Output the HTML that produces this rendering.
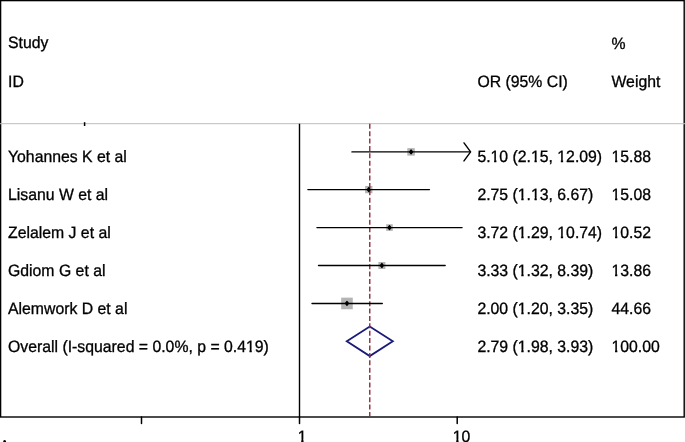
<!DOCTYPE html>
<html><head><meta charset="utf-8"><style>
html,body{margin:0;padding:0;background:#fff;}
svg{display:block;}
#wrap{will-change:transform;width:685px;height:442px;overflow:hidden;}
text{font-family:"Liberation Sans", sans-serif;font-size:15.8px;fill:#000;stroke:#000;stroke-width:0.3px;text-rendering:geometricPrecision;}
</style></head><body>
<div id="wrap"><svg width="685" height="442" viewBox="0 0 685 442">
<defs><clipPath id="k0" clipPathUnits="userSpaceOnUse"><path clip-rule="evenodd" d="M0,0H685V442H0ZM490.77,159.40H499.17V163.00H490.77ZM494.12,159.40H496.37V163.00H494.12ZM531.16,159.40H539.56V163.00H531.16ZM534.51,159.40H536.76V163.00H534.51ZM557.51,159.40H565.91V163.00H557.51ZM560.86,159.40H563.11V163.00H560.86Z"/></clipPath><clipPath id="k1" clipPathUnits="userSpaceOnUse"><path clip-rule="evenodd" d="M0,0H685V442H0ZM611.70,159.40H620.10V163.00H611.70ZM615.05,159.40H617.30V163.00H615.05Z"/></clipPath><clipPath id="k2" clipPathUnits="userSpaceOnUse"><path clip-rule="evenodd" d="M0,0H685V442H0ZM517.99,197.40H526.39V201.00H517.99ZM521.34,197.40H523.59V201.00H521.34ZM531.16,197.40H539.56V201.00H531.16ZM534.51,197.40H536.76V201.00H534.51Z"/></clipPath><clipPath id="k3" clipPathUnits="userSpaceOnUse"><path clip-rule="evenodd" d="M0,0H685V442H0ZM611.70,197.40H620.10V201.00H611.70ZM615.05,197.40H617.30V201.00H615.05Z"/></clipPath><clipPath id="k4" clipPathUnits="userSpaceOnUse"><path clip-rule="evenodd" d="M0,0H685V442H0ZM517.99,235.40H526.39V239.00H517.99ZM521.34,235.40H523.59V239.00H521.34ZM557.51,235.40H565.91V239.00H557.51ZM560.86,235.40H563.11V239.00H560.86Z"/></clipPath><clipPath id="k5" clipPathUnits="userSpaceOnUse"><path clip-rule="evenodd" d="M0,0H685V442H0ZM611.70,235.40H620.10V239.00H611.70ZM615.05,235.40H617.30V239.00H615.05Z"/></clipPath><clipPath id="k6" clipPathUnits="userSpaceOnUse"><path clip-rule="evenodd" d="M0,0H685V442H0ZM517.99,273.40H526.39V277.00H517.99ZM521.34,273.40H523.59V277.00H521.34Z"/></clipPath><clipPath id="k7" clipPathUnits="userSpaceOnUse"><path clip-rule="evenodd" d="M0,0H685V442H0ZM611.70,273.40H620.10V277.00H611.70ZM615.05,273.40H617.30V277.00H615.05Z"/></clipPath><clipPath id="k8" clipPathUnits="userSpaceOnUse"><path clip-rule="evenodd" d="M0,0H685V442H0ZM517.99,311.40H526.39V315.00H517.99ZM521.34,311.40H523.59V315.00H521.34Z"/></clipPath><clipPath id="k9" clipPathUnits="userSpaceOnUse"><path clip-rule="evenodd" d="M0,0H685V442H0ZM246.15,349.40H254.55V353.00H246.15ZM249.50,349.40H251.75V353.00H249.50Z"/></clipPath><clipPath id="k10" clipPathUnits="userSpaceOnUse"><path clip-rule="evenodd" d="M0,0H685V442H0ZM517.99,349.40H526.39V353.00H517.99ZM521.34,349.40H523.59V353.00H521.34Z"/></clipPath><clipPath id="k11" clipPathUnits="userSpaceOnUse"><path clip-rule="evenodd" d="M0,0H685V442H0ZM611.70,349.40H620.10V353.00H611.70ZM615.05,349.40H617.30V353.00H615.05Z"/></clipPath><clipPath id="k12" clipPathUnits="userSpaceOnUse"><path clip-rule="evenodd" d="M0,0H685V442H0ZM297.90,439.40H306.30V443.00H297.90ZM301.25,439.40H303.50V443.00H301.25Z"/></clipPath><clipPath id="k13" clipPathUnits="userSpaceOnUse"><path clip-rule="evenodd" d="M0,0H685V442H0ZM452.91,439.40H461.31V443.00H452.91ZM456.26,439.40H458.51V443.00H456.26Z"/></clipPath></defs>
<rect x="0" y="0" width="685" height="442" fill="#fff"/>
<rect x="0.6" y="0.6" width="683.6" height="416.4" fill="none" stroke="#000" stroke-width="1.4"/>
<line x1="0" y1="123.7" x2="685" y2="123.7" stroke="#bdbdbd" stroke-width="1"/>
<line x1="84.6" y1="122.2" x2="84.6" y2="126" stroke="#000" stroke-width="1.5"/>
<line x1="299.5" y1="123.7" x2="299.5" y2="417" stroke="#000" stroke-width="1.4"/>
<rect x="407.33" y="148.15" width="7.50" height="7.50" fill="#b4b4b4"/>
<rect x="365.13" y="185.95" width="7.30" height="7.30" fill="#b4b4b4"/>
<rect x="386.17" y="224.25" width="6.60" height="6.60" fill="#b4b4b4"/>
<rect x="378.39" y="262.00" width="7.00" height="7.00" fill="#b4b4b4"/>
<rect x="341.17" y="297.65" width="11.60" height="11.60" fill="#b4b4b4"/>
<polygon points="346.80,341.30 369.77,326.50 392.80,341.30 369.77,356.10" fill="none" stroke="#1a1a7a" stroke-width="1.8"/>
<line x1="369.77" y1="123.8" x2="369.77" y2="416.3" stroke="#8f2a3a" stroke-width="1.4" stroke-dasharray="5 2.39"/>
<line x1="351.93" y1="151.90" x2="470.20" y2="151.90" stroke="#000" stroke-width="1.35" stroke-linecap="round"/>
<polyline points="464,142.90 470.6,151.90 464,160.90" fill="none" stroke="#000" stroke-width="1.45" stroke-linecap="round" stroke-linejoin="round"/>
<line x1="307.87" y1="189.60" x2="429.46" y2="189.60" stroke="#000" stroke-width="1.35" stroke-linecap="round"/>
<line x1="316.94" y1="227.55" x2="462.09" y2="227.55" stroke="#000" stroke-width="1.35" stroke-linecap="round"/>
<line x1="318.51" y1="265.50" x2="445.18" y2="265.50" stroke="#000" stroke-width="1.35" stroke-linecap="round"/>
<line x1="311.99" y1="303.45" x2="382.30" y2="303.45" stroke="#000" stroke-width="1.35" stroke-linecap="round"/>
<path d="M411.08,149.85L412.68,151.90L411.08,153.95L409.48,151.90Z" fill="#000" stroke="#000" stroke-width="1.1" stroke-linejoin="round"/>
<path d="M368.78,187.55L370.38,189.60L368.78,191.65L367.18,189.60Z" fill="#000" stroke="#000" stroke-width="1.1" stroke-linejoin="round"/>
<path d="M389.47,225.50L391.07,227.55L389.47,229.60L387.87,227.55Z" fill="#000" stroke="#000" stroke-width="1.1" stroke-linejoin="round"/>
<path d="M381.89,263.45L383.49,265.50L381.89,267.55L380.29,265.50Z" fill="#000" stroke="#000" stroke-width="1.1" stroke-linejoin="round"/>
<path d="M346.97,301.40L348.57,303.45L346.97,305.50L345.37,303.45Z" fill="#000" stroke="#000" stroke-width="1.1" stroke-linejoin="round"/>
<line x1="141.5" y1="417" x2="141.5" y2="423.6" stroke="#000" stroke-width="1.5" stroke-linecap="round"/>
<line x1="299.5" y1="417" x2="299.5" y2="423.6" stroke="#000" stroke-width="1.5" stroke-linecap="round"/>
<line x1="457.20" y1="417" x2="457.20" y2="423.6" stroke="#000" stroke-width="1.5" stroke-linecap="round"/>
<ellipse cx="4.6" cy="441.9" rx="1.5" ry="1.9" fill="#000"/>
<text transform="translate(8.00 162.00) scale(1 1.04)">Yohannes K et al</text>
<g clip-path="url(#k0)"><text transform="translate(477.40 162.00) scale(1 1.04)">5.10 (2.15, 12.09)</text></g>
<g clip-path="url(#k1)"><text transform="translate(611.50 162.00) scale(1 1.04)">15.88</text></g>
<text transform="translate(8.00 200.00) scale(1 1.04)">Lisanu W et al</text>
<g clip-path="url(#k2)"><text transform="translate(477.40 200.00) scale(1 1.04)">2.75 (1.13, 6.67)</text></g>
<g clip-path="url(#k3)"><text transform="translate(611.50 200.00) scale(1 1.04)">15.08</text></g>
<text transform="translate(8.00 238.00) scale(1 1.04)">Zelalem J et al</text>
<g clip-path="url(#k4)"><text transform="translate(477.40 238.00) scale(1 1.04)">3.72 (1.29, 10.74)</text></g>
<g clip-path="url(#k5)"><text transform="translate(611.50 238.00) scale(1 1.04)">10.52</text></g>
<text transform="translate(8.00 276.00) scale(1 1.04)">Gdiom G et al</text>
<g clip-path="url(#k6)"><text transform="translate(477.40 276.00) scale(1 1.04)">3.33 (1.32, 8.39)</text></g>
<g clip-path="url(#k7)"><text transform="translate(611.50 276.00) scale(1 1.04)">13.86</text></g>
<text transform="translate(8.00 314.00) scale(1 1.04)">Alemwork D et al</text>
<g clip-path="url(#k8)"><text transform="translate(477.40 314.00) scale(1 1.04)">2.00 (1.20, 3.35)</text></g>
<text transform="translate(611.50 314.00) scale(1 1.04)">44.66</text>
<g clip-path="url(#k9)"><text transform="translate(8.00 352.00) scale(1 1.04)">Overall (I-squared = 0.0%, p = 0.419)</text></g>
<g clip-path="url(#k10)"><text transform="translate(477.40 352.00) scale(1 1.04)">2.79 (1.98, 3.93)</text></g>
<g clip-path="url(#k11)"><text transform="translate(611.50 352.00) scale(1 1.04)">100.00</text></g>
<text transform="translate(8.00 48.00) scale(1 1.04)">Study</text>
<text transform="translate(8.00 87.00) scale(1 1.04)">ID</text>
<text transform="translate(477.40 87.00) scale(1 1.04)">OR (95% CI)</text>
<text transform="translate(611.50 49.00) scale(1 1.04)">%</text>
<text transform="translate(611.50 87.00) scale(1 1.04)">Weight</text>
<g clip-path="url(#k12)"><text transform="translate(302.10 442.00) scale(1 1.04)" text-anchor="middle">1</text></g>
<g clip-path="url(#k13)"><text transform="translate(461.50 442.00) scale(1 1.04)" text-anchor="middle">10</text></g>
</svg></div>
</body></html>
